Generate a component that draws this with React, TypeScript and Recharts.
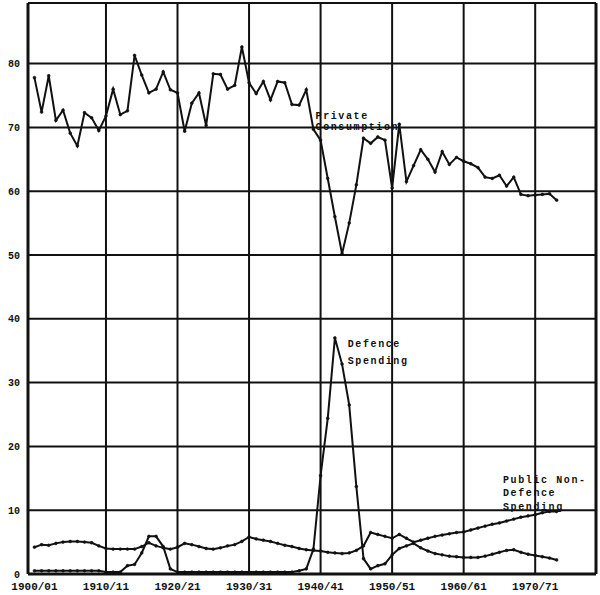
import {
  CartesianGrid,
  Line,
  LineChart,
  ReferenceDot,
  ReferenceLine,
  XAxis,
  YAxis,
} from 'recharts'

// fiscal years 1900/01 .. 1973/74, plotted by their first year
const YEARS = [
  1900, 1901, 1902, 1903, 1904, 1905, 1906, 1907, 1908, 1909,
  1910, 1911, 1912, 1913, 1914, 1915, 1916, 1917, 1918, 1919,
  1920, 1921, 1922, 1923, 1924, 1925, 1926, 1927, 1928, 1929,
  1930, 1931, 1932, 1933, 1934, 1935, 1936, 1937, 1938, 1939,
  1940, 1941, 1942, 1943, 1944, 1945, 1946, 1947, 1948, 1949,
  1950, 1951, 1952, 1953, 1954, 1955, 1956, 1957, 1958, 1959,
  1960, 1961, 1962, 1963, 1964, 1965, 1966, 1967, 1968, 1969,
  1970, 1971, 1972, 1973,
]

const PRIVATE_CONSUMPTION = [
  77.8, 72.4, 78.1, 71.1, 72.7, 69.1, 67.1, 72.3, 71.5, 69.5,
  71.8, 76.0, 72.0, 72.6, 81.3, 78.2, 75.4, 76.0, 78.7, 75.9,
  75.4, 69.4, 73.8, 75.4, 70.3, 78.4, 78.3, 76.0, 76.6, 82.6,
  77.0, 75.3, 77.2, 74.3, 77.2, 77.0, 73.6, 73.5, 75.9, 69.7,
  68.0, 62.0, 56.0, 50.2, 55.0, 61.0, 68.3, 67.5, 68.5, 68.0,
  60.5, 70.5, 61.5, 64.0, 66.5, 65.0, 63.0, 66.2, 64.2, 65.3,
  64.7, 64.3, 63.7, 62.2, 62.0, 62.5, 60.8, 62.2, 59.5, 59.3,
  59.4, 59.5, 59.6, 58.6,
]

const DEFENCE_SPENDING = [
  0.5, 0.5, 0.5, 0.5, 0.5, 0.5, 0.5, 0.5, 0.5, 0.5,
  0.3, 0.3, 0.3, 1.3, 1.5, 3.3, 5.9, 5.9, 4.3, 0.8,
  0.3, 0.3, 0.3, 0.3, 0.3, 0.3, 0.3, 0.3, 0.3, 0.3,
  0.3, 0.3, 0.3, 0.3, 0.3, 0.3, 0.3, 0.5, 0.8, 3.9,
  15.4, 24.4, 37.0, 32.9, 26.5, 13.7, 2.4, 0.8, 1.3, 1.6,
  3.0, 4.0, 4.4, 4.8, 4.1, 3.6, 3.2, 3.0, 2.8, 2.7,
  2.6, 2.6, 2.6, 2.8, 3.1, 3.4, 3.7, 3.8, 3.4, 3.1,
  2.9, 2.7, 2.5, 2.2,
]

const PUBLIC_NON_DEFENCE = [
  4.2, 4.6, 4.5, 4.8, 5.0, 5.1, 5.1, 5.0, 4.9, 4.4,
  4.0, 3.9, 3.9, 3.9, 3.9, 4.3, 4.9, 4.4, 4.1, 3.9,
  4.2, 4.8, 4.6, 4.3, 4.0, 3.9, 4.1, 4.4, 4.6, 5.1,
  5.8, 5.5, 5.3, 5.1, 4.8, 4.5, 4.3, 4.0, 3.8, 3.7,
  3.6, 3.4, 3.3, 3.2, 3.3, 3.7, 4.4, 6.5, 6.2, 5.9,
  5.6, 6.2, 5.6, 5.0, 5.3, 5.6, 5.9, 6.1, 6.3, 6.5,
  6.6, 6.9, 7.2, 7.5, 7.8, 8.0, 8.3, 8.6, 8.9, 9.1,
  9.3, 9.6, 9.8, 9.8,
]

const X_TICKS = [1900, 1910, 1920, 1930, 1940, 1950, 1960, 1970]
const X_TICK_LABELS = ['1900/01', '1910/11', '1920/21', '1930/31', '1940/41', '1950/51', '1960/61', '1970/71']
const GRID_YEARS = [1910, 1920, 1930, 1940, 1950, 1960, 1970]
const Y_TICKS = [0, 10, 20, 30, 40, 50, 60, 70, 80]

const X_MIN = 1899.1
const X_MAX = 1978.5
const Y_MAX = 89.5

const INK = '#111'
const FONT = '"Liberation Mono", "DejaVu Sans Mono", monospace'

// series captions, anchored in data space
const NOTES = [
  { x: 1939.3, y: 71.3, gap: 11, lines: ['Private', 'Consumption'] },
  { x: 1943.8, y: 35.6, gap: 17, lines: ['Defence', 'Spending'] },
  { x: 1965.5, y: 14.3, gap: 13.5, lines: ['Public Non-', 'Defence', 'Spending'] },
]

const data = YEARS.map((year, i) => ({
  year,
  privateConsumption: PRIVATE_CONSUMPTION[i],
  defence: DEFENCE_SPENDING[i],
  publicNonDefence: PUBLIC_NON_DEFENCE[i],
}))

function XTick({ x, y, payload }: any) {
  const label = X_TICK_LABELS[X_TICKS.indexOf(payload.value)] ?? payload.value
  return (
    <text
      x={x}
      y={y}
      dy="0.71em"
      textAnchor="middle"
      fill={INK}
      fontFamily={FONT}
      fontSize={11}
      fontWeight="bold"
    >
      {label}
    </text>
  )
}

function noteLabel(lines: string[], gap: number) {
  return ({ viewBox }: any) => {
    const { x, y } = viewBox
    return (
      <text
        x={x}
        y={y}
        fill={INK}
        fontFamily={FONT}
        fontSize={10}
        fontWeight="bold"
        letterSpacing={1.6}
      >
        {lines.map((line, i) => (
          <tspan key={line} x={x} dy={i === 0 ? 0 : gap}>
            {line}
          </tspan>
        ))}
      </text>
    )
  }
}

const DOT = { r: 1.4, fill: INK, stroke: INK, strokeWidth: 0.6 }

export default function App() {
  return (
    <div style={{ position: 'absolute', left: 0, top: 0, background: '#fff' }}>
      <LineChart
        width={600}
        height={595}
        data={data}
        margin={{ top: 3, right: 4, bottom: 0, left: 0 }}
      >
        <CartesianGrid vertical={false} stroke={INK} strokeWidth={2} />
        <XAxis
          dataKey="year"
          type="number"
          domain={[X_MIN, X_MAX]}
          ticks={X_TICKS}
          allowDataOverflow
          tickLine={false}
          height={21}
          axisLine={{ stroke: INK, strokeWidth: 3 }}
          tick={<XTick />}
        />
        <YAxis
          type="number"
          domain={[0, Y_MAX]}
          ticks={Y_TICKS}
          allowDataOverflow
          width={28}
          tickLine={false}
          axisLine={{ stroke: INK, strokeWidth: 3 }}
          tick={{ fill: INK, fontFamily: FONT, fontSize: 10, fontWeight: 'bold' }}
        />
        {GRID_YEARS.map((yr) => (
          <ReferenceLine key={yr} x={yr} stroke={INK} strokeWidth={2} />
        ))}
        <ReferenceLine y={Y_MAX} stroke={INK} strokeWidth={2} />
        <ReferenceLine x={X_MAX} stroke={INK} strokeWidth={3} />
        <Line
          type="linear"
          dataKey="privateConsumption"
          stroke={INK}
          strokeWidth={2}
          dot={DOT}
          isAnimationActive={false}
        />
        <Line
          type="linear"
          dataKey="defence"
          stroke={INK}
          strokeWidth={2}
          dot={DOT}
          isAnimationActive={false}
        />
        <Line
          type="linear"
          dataKey="publicNonDefence"
          stroke={INK}
          strokeWidth={2}
          dot={DOT}
          isAnimationActive={false}
        />
        {NOTES.map((n) => (
          <ReferenceDot
            key={n.lines[0]}
            x={n.x}
            y={n.y}
            r={0}
            stroke="none"
            fill="none"
            label={noteLabel(n.lines, n.gap)}
          />
        ))}
      </LineChart>
    </div>
  )
}
